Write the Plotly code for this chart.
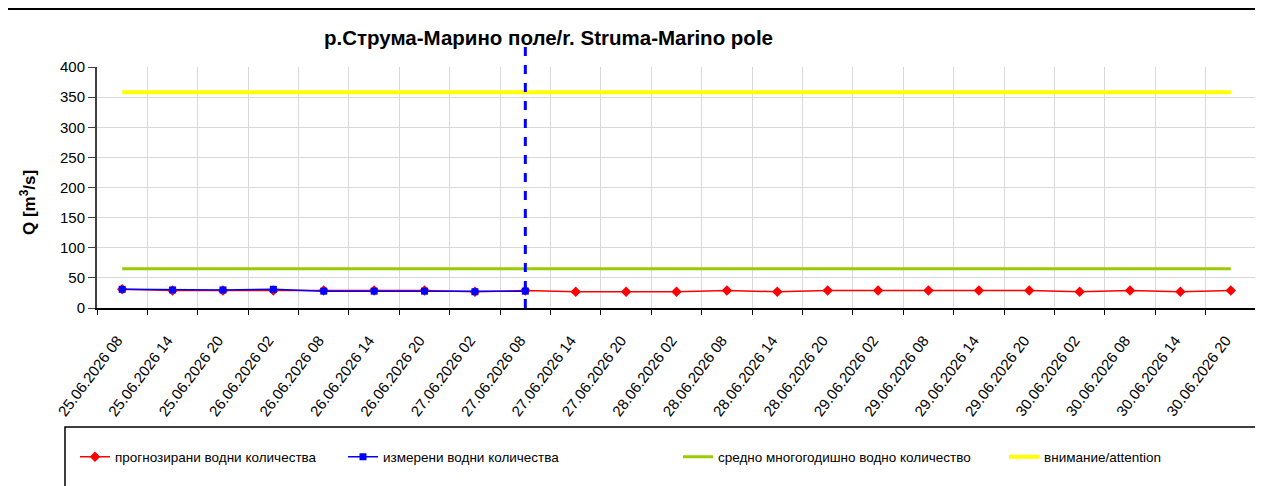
import plotly.graph_objects as go

categories = [
    "25.06.2026 08", "25.06.2026 14", "25.06.2026 20",
    "26.06.2026 02", "26.06.2026 08", "26.06.2026 14", "26.06.2026 20",
    "27.06.2026 02", "27.06.2026 08", "27.06.2026 14", "27.06.2026 20",
    "28.06.2026 02", "28.06.2026 08", "28.06.2026 14", "28.06.2026 20",
    "29.06.2026 02", "29.06.2026 08", "29.06.2026 14", "29.06.2026 20",
    "30.06.2026 02", "30.06.2026 08", "30.06.2026 14", "30.06.2026 20",
]
forecast = [31, 29, 29, 29, 29, 29, 29, 27, 29, 27, 27, 27, 29, 27, 29, 29,
            29, 29, 29, 27, 29, 27, 29]
measured = [31, 30, 30, 31, 28, 28, 28, 27, 28]
mean_q = [65] * len(categories)
attention_q = [358] * len(categories)
now_category = "27.06.2026 08"

# page offset (default body margin of the html page)
OFF = 8
W, H = 1263 - OFF, 486 - OFF
# plot area in page pixels: left 97, right 1256, top 67, bottom 308
L, R, T, B = 97 - OFF, W - (1256 - OFF), 67 - OFF, H - (308 - OFF)
PW, PH = W - L - R, H - T - B


def xp(px):
    """page x pixel -> paper coordinate"""
    return (px - OFF - L) / PW


def yp(py):
    """page y pixel -> paper coordinate"""
    return (H - B - (py - OFF)) / PH


FONT = "Liberation Sans, Arial, sans-serif"

fig = go.Figure()
fig.add_trace(go.Scatter(
    x=categories, y=forecast, mode="lines+markers",
    name="прогнозирани водни количества",
    line=dict(color="#FF0000", width=1.5),
    marker=dict(symbol="diamond", size=8, color="#FF0000"),
    legend="legend"))
fig.add_trace(go.Scatter(
    x=categories[:len(measured)], y=measured, mode="lines+markers",
    name="измерени водни количества",
    line=dict(color="#0000FF", width=1.5),
    marker=dict(symbol="square", size=7, color="#0000FF"),
    legend="legend2"))
fig.add_trace(go.Scatter(
    x=categories, y=mean_q, mode="lines",
    name="средно многогодишно водно количество",
    line=dict(color="#99CC00", width=3),
    legend="legend3"))
fig.add_trace(go.Scatter(
    x=categories, y=attention_q, mode="lines",
    name="внимание/attention",
    line=dict(color="#FFFF00", width=4),
    legend="legend4"))

# forecast-start dashed marker
fig.add_shape(type="line", xref="x", yref="paper",
              x0=now_category, x1=now_category, y0=0, y1=yp(42),
              line=dict(color="#0000FF", width=3, dash="dash"))

# outer border
fig.add_shape(type="rect", xref="paper", yref="paper",
              x0=xp(7), x1=xp(1256), y0=yp(9), y1=yp(495),
              line=dict(color="black", width=2), layer="above")
# legend box
fig.add_shape(type="rect", xref="paper", yref="paper",
              x0=xp(65), x1=xp(1256), y0=yp(427), y1=yp(495),
              line=dict(color="black", width=1.5))

leg_common = dict(orientation="h", xanchor="left", yanchor="middle",
                  font=dict(family=FONT, size=13.5, color="black"),
                  bgcolor="rgba(0,0,0,0)", borderwidth=0)
legy = yp(457)
fig.update_layout(
    legend=dict(x=xp(75), y=legy, **leg_common),
    legend2=dict(x=xp(343), y=legy, **leg_common),
    legend3=dict(x=xp(678), y=legy, **leg_common),
    legend4=dict(x=xp(1004), y=legy, **leg_common),
)

fig.add_annotation(text="<b>р.Струма-Марино поле/r. Struma-Marino pole</b>",
                   xref="paper", yref="paper", x=xp(548), y=yp(38),
                   showarrow=False, xanchor="center", yanchor="middle",
                   font=dict(family=FONT, size=20.5, color="black"))
fig.add_annotation(text="<b>Q [m<sup>3</sup>/s]</b>",
                   xref="paper", yref="paper", x=xp(28), y=yp(203),
                   showarrow=False, xanchor="center", yanchor="middle",
                   textangle=-90,
                   font=dict(family=FONT, size=17, color="black"))

fig.update_layout(
    width=W, height=H,
    margin=dict(l=L, r=R, t=T, b=B, autoexpand=False),
    paper_bgcolor="white", plot_bgcolor="white",
    font=dict(family=FONT, color="black"),
    showlegend=True,
)
fig.update_xaxes(
    type="category", tickson="boundaries", tickangle=-53,
    showgrid=True, gridcolor="#d9d9d9", gridwidth=1,
    showline=True, linecolor="black", linewidth=1.5,
    ticks="outside", ticklen=5, tickcolor="black",
    ticklabelstandoff=16, ticklabelshift=-5,
    tickfont=dict(family=FONT, size=15, color="black"),
    range=[-0.5, len(categories) - 0.5],
)
fig.update_yaxes(
    range=[0, 400], dtick=50,
    showgrid=True, gridcolor="#d9d9d9", gridwidth=1,
    showline=True, linecolor="#404040", linewidth=2,
    ticks="outside", ticklen=7, tickcolor="#404040",
    tickfont=dict(family=FONT, size=15, color="black"),
    zeroline=False,
)

fig.write_html("out.html")
